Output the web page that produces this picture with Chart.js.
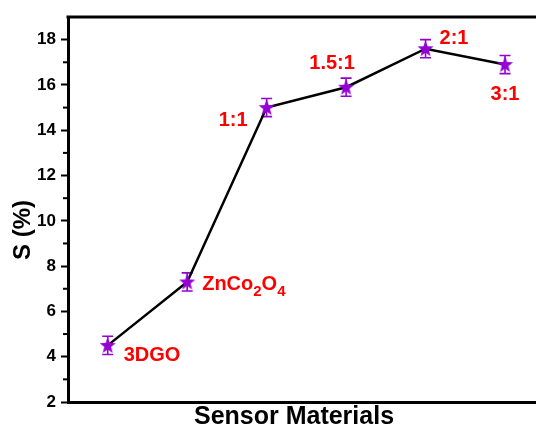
<!DOCTYPE html>
<html>
<head>
<meta charset="utf-8">
<script src="https://cdn.jsdelivr.net/npm/chart.js@4.4.0/dist/chart.umd.min.js"></script>
<style>
html,body{margin:0;padding:0;background:#fff;}
#wrap{width:536px;height:431px;position:relative;}
</style>
</head>
<body>
<div id="wrap"><canvas id="c" width="536" height="431"></canvas></div>
<script>
// ---- data ----
const categories = ["3DGO", "ZnCo2O4", "1:1", "1.5:1", "2:1", "3:1"];
const sValues = [4.5, 7.3, 15.0, 15.9, 17.6, 16.9];
const sErrors = [0.4, 0.4, 0.4, 0.4, 0.4, 0.4];
const yTicks = [2, 4, 6, 8, 10, 12, 14, 16, 18];
const yMinorTicks = [3, 5, 7, 9, 11, 13, 15, 17];

// label placement (style, not data)
const labelPlacement = [
  {dx: 16, dy: 16, align: 'left'},
  {dx: 15, dy: 8, align: 'left'},
  {dx: -19, dy: 18, align: 'right'},
  {dx: -14, dy: -18, align: 'center'},
  {dx: 14, dy: -5, align: 'left'},
  {dx: 0, dy: 35, align: 'center'}
];

const PURPLE = '#9400d3';
const RED = '#ff0000';

function makeStar(r, color) {
  const size = Math.ceil(r * 2 + 2);
  const cv = document.createElement('canvas');
  cv.width = size; cv.height = size;
  const g = cv.getContext('2d');
  const cx = size / 2, cy = size / 2 + 0.5;
  g.beginPath();
  for (let i = 0; i < 10; i++) {
    const rad = i % 2 === 0 ? r : r * 0.42;
    const a = -Math.PI / 2 + i * Math.PI / 5;
    const x = cx + rad * Math.cos(a), y = cy + rad * Math.sin(a);
    if (i === 0) g.moveTo(x, y); else g.lineTo(x, y);
  }
  g.closePath();
  g.fillStyle = color;
  g.fill();
  return cv;
}
const starImg = makeStar(8.5, PURPLE);

const points = sValues.map((v, i) => ({x: i, y: v}));

const decor = {
  id: 'decor',
  beforeDatasetsDraw(chart) {
    const ctx = chart.ctx;
    const xs = chart.scales.x, ys = chart.scales.y;
    ctx.save();
    ctx.strokeStyle = PURPLE;
    ctx.lineWidth = 1.6;
    sValues.forEach((v, i) => {
      const px = xs.getPixelForValue(i);
      const top = ys.getPixelForValue(v + sErrors[i]);
      const bot = ys.getPixelForValue(v - sErrors[i]);
      ctx.beginPath();
      ctx.moveTo(px, top); ctx.lineTo(px, bot);
      ctx.moveTo(px - 5.5, top); ctx.lineTo(px + 5.5, top);
      ctx.moveTo(px - 5.5, bot); ctx.lineTo(px + 5.5, bot);
      ctx.stroke();
    });
    ctx.restore();
  },
  afterDraw(chart) {
    const ctx = chart.ctx;
    const xs = chart.scales.x, ys = chart.scales.y;
    const area = chart.chartArea;
    ctx.save();
    // top frame line
    ctx.strokeStyle = '#000';
    ctx.lineWidth = 3;
    ctx.beginPath();
    ctx.moveTo(area.left - 1.5, area.top);
    ctx.lineTo(area.right, area.top);
    ctx.stroke();
    // minor ticks
    ctx.lineWidth = 2;
    yMinorTicks.forEach(t => {
      const py = ys.getPixelForValue(t);
      ctx.beginPath();
      ctx.moveTo(area.left - 5, py);
      ctx.lineTo(area.left, py);
      ctx.stroke();
    });
    // point labels
    ctx.fillStyle = RED;
    ctx.textBaseline = 'alphabetic';
    sValues.forEach((v, i) => {
      const p = labelPlacement[i];
      const px = xs.getPixelForValue(i) + p.dx;
      const py = ys.getPixelForValue(v) + p.dy;
      if (categories[i] === 'ZnCo2O4') {
        const big = 'bold 20px "Liberation Sans", Arial, sans-serif';
        const small = 'bold 15px "Liberation Sans", Arial, sans-serif';
        const parts = [['ZnCo', big, 0], ['2', small, 6], ['O', big, 0], ['4', small, 6]];
        let x = px;
        ctx.textAlign = 'left';
        parts.forEach(([t, f, off]) => {
          ctx.font = f;
          ctx.fillText(t, x, py + off);
          x += ctx.measureText(t).width;
        });
      } else {
        ctx.font = 'bold 20px "Liberation Sans", Arial, sans-serif';
        ctx.textAlign = p.align;
        ctx.fillText(categories[i], px, py);
      }
    });
    // axis titles
    ctx.fillStyle = '#000';
    ctx.font = 'bold 25px "Liberation Sans", Arial, sans-serif';
    ctx.textAlign = 'center';
    ctx.textBaseline = 'alphabetic';
    ctx.fillText('Sensor Materials', 294, 424);
    ctx.save();
    ctx.translate(30, 230);
    ctx.rotate(-Math.PI / 2);
    ctx.font = 'bold 24px "Liberation Sans", Arial, sans-serif';
    ctx.fillText('S (%)', 0, 0);
    ctx.restore();
    ctx.restore();
  }
};

new Chart(document.getElementById('c'), {
  type: 'line',
  data: {
    datasets: [{
      data: points,
      borderColor: '#000',
      borderWidth: 2.5,
      tension: 0,
      pointStyle: starImg,
      pointRadius: 8,
      pointHoverRadius: 8
    }]
  },
  options: {
    responsive: false,
    animation: false,
    events: [],
    layout: {autoPadding: false, padding: {top: 17, right: 0, left: 0, bottom: 0}},
    plugins: {legend: {display: false}, tooltip: {enabled: false}},
    scales: {
      x: {
        type: 'linear',
        min: -0.5,
        max: 5.39,
        ticks: {display: false},
        grid: {display: true, drawOnChartArea: false, drawTicks: false},
        border: {display: true, color: '#000', width: 3},
        afterFit(s) { s.height = 29; }
      },
      y: {
        min: 2,
        max: 19,
        afterBuildTicks(s) { s.ticks = yTicks.map(v => ({value: v})); },
        ticks: {
          color: '#000',
          padding: 5,
          font: {family: '"Liberation Sans", Arial, sans-serif', size: 17, weight: 'bold'}
        },
        grid: {display: true, drawOnChartArea: false, drawTicks: true, tickLength: 7, tickWidth: 2, tickColor: '#000'},
        border: {display: true, color: '#000', width: 3},
        afterFit(s) { s.width = 68; }
      }
    }
  },
  plugins: [decor]
});
</script>
</body>
</html>
